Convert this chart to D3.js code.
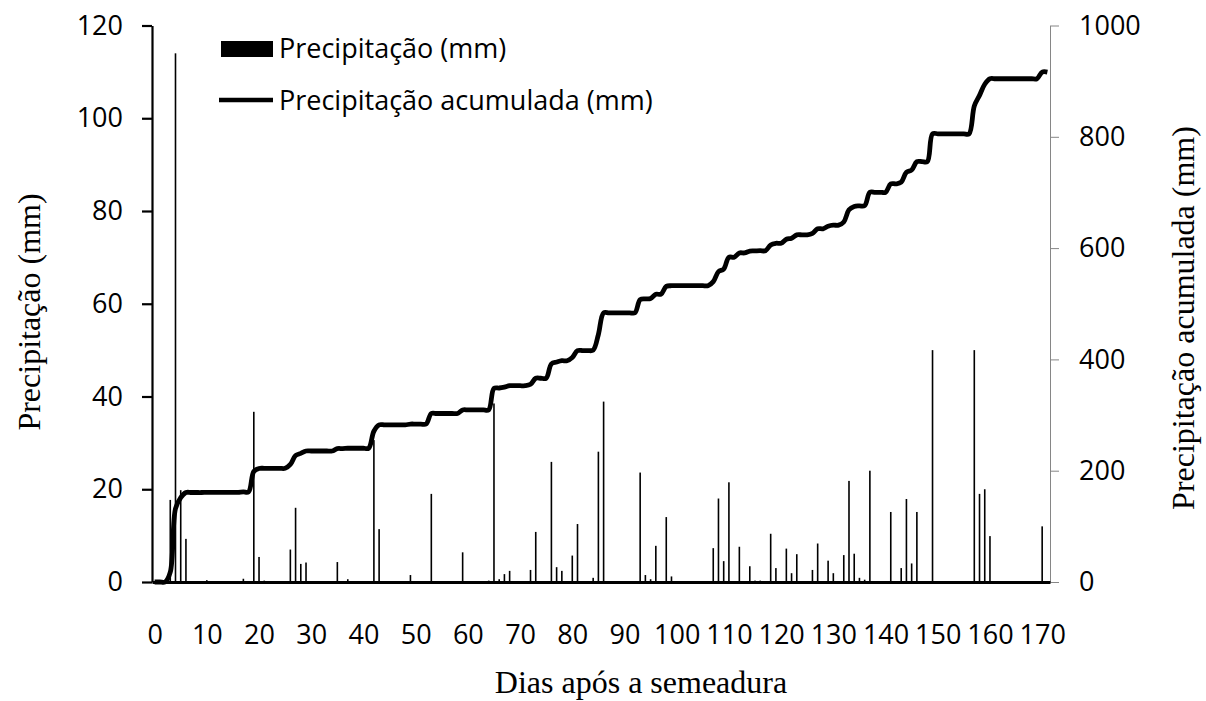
<!DOCTYPE html>
<html>
<head>
<meta charset="utf-8">
<script src="https://cdn.jsdelivr.net/npm/d3@7"></script>
<style>
  html, body { margin: 0; padding: 0; background: #fff; }
  svg { display: block; }
</style>
</head>
<body>
<svg id="chart" width="1206" height="701"></svg>
<script>
// ---- data ----
const rainDays = [3,4,5,6,10,17,19,20,21,26,27,28,29,35,37,42,43,49,53,59,64,65,66,67,68,72,73,76,77,78,80,81,84,85,86,93,94,95,96,98,99,107,108,109,110,112,114,115,116,118,119,121,122,123,126,127,129,130,132,133,134,135,136,137,141,143,144,145,146,149,157,158,159,160,170];
const rainMm   = [17.7,114,19.8,9.3,0.4,0.7,36.7,5.4,0.3,7.0,16.0,3.9,4.2,4.3,0.6,30.6,11.4,1.5,19.0,6.4,0.3,38.5,0.6,1.7,2.4,2.6,10.8,25.9,3.2,2.4,5.7,12.5,0.9,28.1,38.9,23.6,1.5,0.6,7.8,14.0,1.2,7.3,18.0,4.5,21.5,7.6,3.4,0.3,0.3,10.4,3.0,7.2,1.9,6.0,2.6,8.3,4.6,1.9,5.8,21.8,6.1,0.9,0.5,24.0,15.1,3.0,17.9,4.0,15.1,50.0,50.0,19.0,20.0,9.9,12.0];
const lastDay = 171;
const xTickLabels = [0,10,20,30,40,50,60,70,80,90,100,110,120,130,140,150,160,170];
const leftTicks = [0,20,40,60,80,100,120];
const rightTicks = [0,200,400,600,800,1000];
const legendLabels = ["Precipitação (mm)", "Precipitação acumulada (mm)"];

// daily series and accumulated series
const rainByDay = new Map(rainDays.map((d, i) => [d, rainMm[i]]));
const allDays = d3.range(0, lastDay + 1);
const daily = allDays.map(d => rainByDay.get(d) || 0);
const accum = Array.from(d3.cumsum(daily));

// ---- layout ----
const svg = d3.select("#chart");
const plot = { left: 152, right: 1050, top: 25.5, bottom: 582 };
const x = d3.scaleLinear().domain([-0.5, lastDay + 0.5]).range([plot.left, plot.right]);
const yL = d3.scaleLinear().domain([0, 120]).range([plot.bottom, plot.top]);
const yR = d3.scaleLinear().domain([0, 1000]).range([plot.bottom, plot.top]);

const tickFont = "'Open Sans', sans-serif";
const titleFont = "'Liberation Serif', 'Times New Roman', serif";

// bars
svg.append("g").selectAll("rect")
  .data(rainDays.map((d, i) => ({ d, v: rainMm[i] })))
  .join("rect")
  .attr("x", p => x(p.d) - 0.8)
  .attr("width", 1.6)
  .attr("y", p => yL(p.v))
  .attr("height", p => yL(0) - yL(p.v))
  .attr("fill", "#000");

// left axis
const gL = svg.append("g").attr("transform", `translate(${plot.left},0)`)
  .call(d3.axisLeft(yL).tickValues(leftTicks).tickSize(10).tickSizeOuter(0).tickPadding(19));
gL.select(".domain").attr("stroke", "#000").attr("stroke-width", 2.2);
gL.selectAll(".tick line").attr("stroke", "#000").attr("stroke-width", 2.2);
gL.selectAll("text").attr("font-family", tickFont).attr("font-size", 27).attr("fill", "#000");

// right axis
const gR = svg.append("g").attr("transform", `translate(${plot.right},0)`)
  .call(d3.axisRight(yR).tickValues(rightTicks).tickFormat(d3.format("d")).tickSize(9).tickSizeOuter(0).tickPadding(20));
gR.select(".domain").attr("stroke", "#868686").attr("stroke-width", 1);
gR.selectAll(".tick line").attr("stroke", "#868686").attr("stroke-width", 1);
gR.selectAll("text").attr("font-family", tickFont).attr("font-size", 27).attr("fill", "#000");

// bottom axis
const gB = svg.append("g").attr("transform", `translate(0,${plot.bottom})`)
  .call(d3.axisBottom(x).tickValues(xTickLabels).tickSize(0).tickSizeOuter(0).tickPadding(43));
gB.select(".domain").attr("stroke", "#000").attr("stroke-width", 3);
gB.selectAll("text").attr("font-family", tickFont).attr("font-size", 27).attr("fill", "#000");

// accumulated line
const line = d3.line()
  .x((v, i) => x(allDays[i]))
  .y(v => yR(v))
  .curve(d3.curveCatmullRom.alpha(0.5));
svg.append("path")
  .datum(accum)
  .attr("d", line)
  .attr("fill", "none")
  .attr("stroke", "#000")
  .attr("stroke-width", 4.8)
  .attr("stroke-linejoin", "round");

// legend
const leg = svg.append("g");
leg.append("rect").attr("x", 221).attr("y", 41).attr("width", 52).attr("height", 16).attr("fill", "#000");
leg.append("line").attr("x1", 219).attr("x2", 273).attr("y1", 100).attr("y2", 100)
  .attr("stroke", "#000").attr("stroke-width", 4.5);
leg.selectAll("text").data(legendLabels).join("text")
  .attr("x", 279)
  .attr("y", (d, i) => i === 0 ? 58 : 110)
  .attr("font-family", tickFont).attr("font-size", 27).attr("fill", "#000")
  .text(d => d);

// axis titles
svg.append("text")
  .attr("x", 641).attr("y", 693)
  .attr("text-anchor", "middle")
  .attr("font-family", titleFont).attr("font-size", 32).attr("fill", "#000")
  .text("Dias após a semeadura");
svg.append("text")
  .attr("transform", `translate(40,312) rotate(-90)`)
  .attr("text-anchor", "middle")
  .attr("font-family", titleFont).attr("font-size", 32).attr("fill", "#000")
  .text("Precipitação (mm)");
svg.append("text")
  .attr("transform", `translate(1194,318) rotate(-90)`)
  .attr("text-anchor", "middle")
  .attr("font-family", titleFont).attr("font-size", 32).attr("fill", "#000")
  .text("Precipitação acumulada (mm)");
</script>
</body>
</html>
